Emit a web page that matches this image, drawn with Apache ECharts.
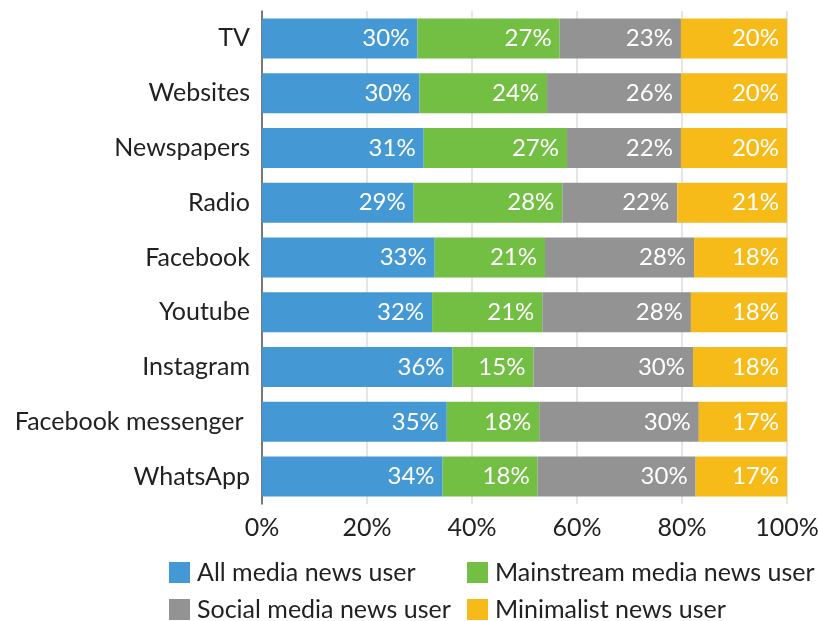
<!DOCTYPE html>
<html>
<head>
<meta charset="utf-8">
<script src="https://cdn.jsdelivr.net/npm/echarts@6/dist/echarts.min.js"></script>
<style>
html,body{margin:0;padding:0;background:#fff;}
#chart{width:818px;height:621px;}
</style>
</head>
<body>
<div id="chart"></div>
<script>
const categories = ["TV","Websites","Newspapers","Radio","Facebook","Youtube","Instagram","Facebook messenger ","WhatsApp"];
const allMedia   = [29.6, 30.0, 30.8, 28.9, 32.9, 32.4, 36.3, 35.2, 34.4];
const mainstream = [27.1, 24.3, 27.3, 28.3, 21.0, 21.0, 15.4, 17.6, 18.1];
const social     = [23.1, 25.5, 21.7, 21.9, 28.4, 28.3, 30.4, 30.4, 30.1];
const minimalist = [20.2, 20.2, 20.2, 20.9, 17.7, 18.3, 17.9, 16.8, 17.4];
const seriesNames = ["All media news user","Mainstream media news user","Social media news user","Minimalist news user"];
const colors = ["#4499D4","#72BF44","#939393","#F6BB19"];
const xTicks = [0,20,40,60,80,100];

const font = "Lato, 'Noto Sans', sans-serif";
const chart = echarts.init(document.getElementById('chart'));
const values = [allMedia, mainstream, social, minimalist];
const series = values.map((v,i)=>({
  name: seriesNames[i],
  type: 'bar',
  stack: 'total',
  barWidth: 40,
  data: v,
  itemStyle: {color: colors[i]},
  label: {
    show: true,
    position: 'insideRight',
    distance: 8,
    color: '#fff',
    fontSize: 24,
    fontFamily: font,
    formatter: p => Math.round(p.value) + '%'
  }
}));
const legendPos = [[169,560],[467,560],[169,597],[467,597]];
const legends = seriesNames.map((n,i)=>({
  data: [n],
  orient: 'horizontal',
  left: legendPos[i][0], top: legendPos[i][1],
  padding: 0,
  itemWidth: 21, itemHeight: 21,
  icon: 'rect',
  textStyle: {fontSize: 25, lineHeight: 25, color: '#222', fontFamily: font, padding: [0,0,0,2]}
}));
chart.setOption({
  animation: false,
  color: colors,
  textStyle: {fontFamily: font},
  grid: {left: 262, right: 31, top: 11, bottom: 117, containLabel: false, outerBoundsMode: 'none'},
  xAxis: {
    type: 'value',
    min: xTicks[0], max: xTicks[xTicks.length-1], interval: 20,
    axisLabel: {formatter: '{value}%', fontSize: 25, color: '#222', margin: 11, fontFamily: font},
    axisLine: {show: false},
    axisTick: {show: false},
    splitLine: {show: true, lineStyle: {color: '#dcdcdc', width: 1.5}}
  },
  yAxis: {
    type: 'category',
    inverse: true,
    data: categories,
    axisLine: {show: true, lineStyle: {color: '#555', width: 1.5}},
    axisTick: {show: false},
    axisLabel: {fontSize: 25, color: '#222', margin: 12, fontFamily: font}
  },
  legend: legends,
  series: series
});
</script>
</body>
</html>
